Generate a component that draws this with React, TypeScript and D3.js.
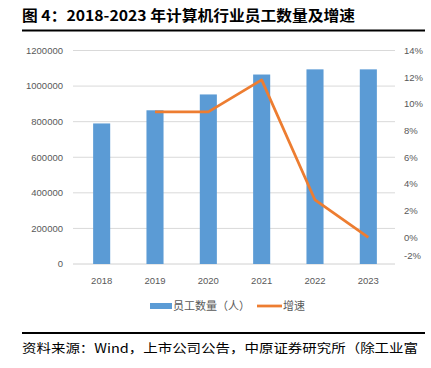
import React from "react";
import * as d3 from "d3";

const years = ["2018", "2019", "2020", "2021", "2022", "2023"];
const employees = [790000, 864000, 953000, 1065000, 1094000, 1094000];
const growth: (number | null)[] = [null, 9.4, 9.4, 11.8, 2.8, 0.0];
const leftTicks = [0, 200000, 400000, 600000, 800000, 1000000, 1200000];
const rightTicks = [-2, 0, 2, 4, 6, 8, 10, 12, 14];

const W = 431;
const H = 368;
const plotLeft = 75;
const plotRight = 395;
const plotTop = 50.5;
const plotBottom = 264;

export default function App() {
  const x = d3.scaleBand<string>().domain(years).range([plotLeft, plotRight]).paddingInner(0.68).paddingOuter(0.34);
  const yL = d3.scaleLinear().domain([0, 1200000]).range([plotBottom, plotTop]);
  const yR = d3.scaleLinear().domain([-2, 14]).range([plotBottom, plotTop]);
  const cx = (d: string) => (x(d) as number) + x.bandwidth() / 2;

  const pts = years
    .map((yr, i) => ({ yr, v: growth[i] }))
    .filter((p) => p.v !== null) as { yr: string; v: number }[];
  const line = d3
    .line<{ yr: string; v: number }>()
    .x((d) => cx(d.yr))
    .y((d) => yR(d.v));

  const axisFont = "'Liberation Sans', Arial, sans-serif";
  const cjk = "'Noto Sans CJK SC', 'Liberation Sans', sans-serif";

  return (
    <svg width={W} height={H} style={{ position: "absolute", left: 0, top: 0, background: "#fff" }}>
      <rect x={0} y={0} width={W} height={H} fill="#fff" />
      <text x={22} y={21} fontFamily={cjk} fontWeight="bold" fontSize={14.5} fill="#000" textLength={333} lengthAdjust="spacingAndGlyphs">
        图 4：2018-2023 年计算机行业员工数量及增速
      </text>
      <line x1={22} x2={425} y1={30.5} y2={30.5} stroke="#000" strokeWidth={2} />

      {leftTicks.map((t) => (
        <g key={"l" + t}>
          <line x1={73} x2={395} y1={yL(t)} y2={yL(t)} stroke={t === 0 ? "#d0d0d0" : "#d9d9d9"} strokeWidth={1} />
          <text x={63} y={yL(t)} dy="0.35em" textAnchor="end" fontFamily={axisFont} fontSize={9.5} fill="#595959">
            {t}
          </text>
        </g>
      ))}
      {rightTicks.map((t) => (
        <text key={"r" + t} x={404} y={Math.min(yR(t), 256)} dy="0.35em" textAnchor="start" fontFamily={axisFont} fontSize={9.5} fill="#595959">
          {t + "%"}
        </text>
      ))}

      {years.map((yr, i) => (
        <rect key={yr} x={x(yr)} y={yL(employees[i])} width={x.bandwidth()} height={plotBottom - yL(employees[i])} fill="#5B9BD5" />
      ))}
      {years.map((yr) => (
        <text key={"x" + yr} x={cx(yr)} y={281} dy="0.35em" textAnchor="middle" fontFamily={axisFont} fontSize={9.5} fill="#595959">
          {yr}
        </text>
      ))}

      <path d={line(pts) || ""} fill="none" stroke="#ED7D31" strokeWidth={2.75} strokeLinejoin="round" />

      <rect x={150} y={303} width={22} height={6} fill="#5B9BD5" />
      <text x={173} y={306} dy="0.35em" fontFamily={cjk} fontSize={11} fill="#595959">
        员工数量（人）
      </text>
      <line x1={257} x2={282} y1={306} y2={306} stroke="#ED7D31" strokeWidth={2.75} />
      <text x={283} y={306} dy="0.35em" fontFamily={cjk} fontSize={11} fill="#595959">
        增速
      </text>

      <line x1={22} x2={425} y1={333} y2={333} stroke="#000" strokeWidth={2} />
      <text x={22} y={353} fontFamily={cjk} fontSize={12.5} fill="#000" textLength={396} lengthAdjust="spacingAndGlyphs">
        资料来源：Wind，上市公司公告，中原证券研究所（除工业富
      </text>
    </svg>
  );
}
